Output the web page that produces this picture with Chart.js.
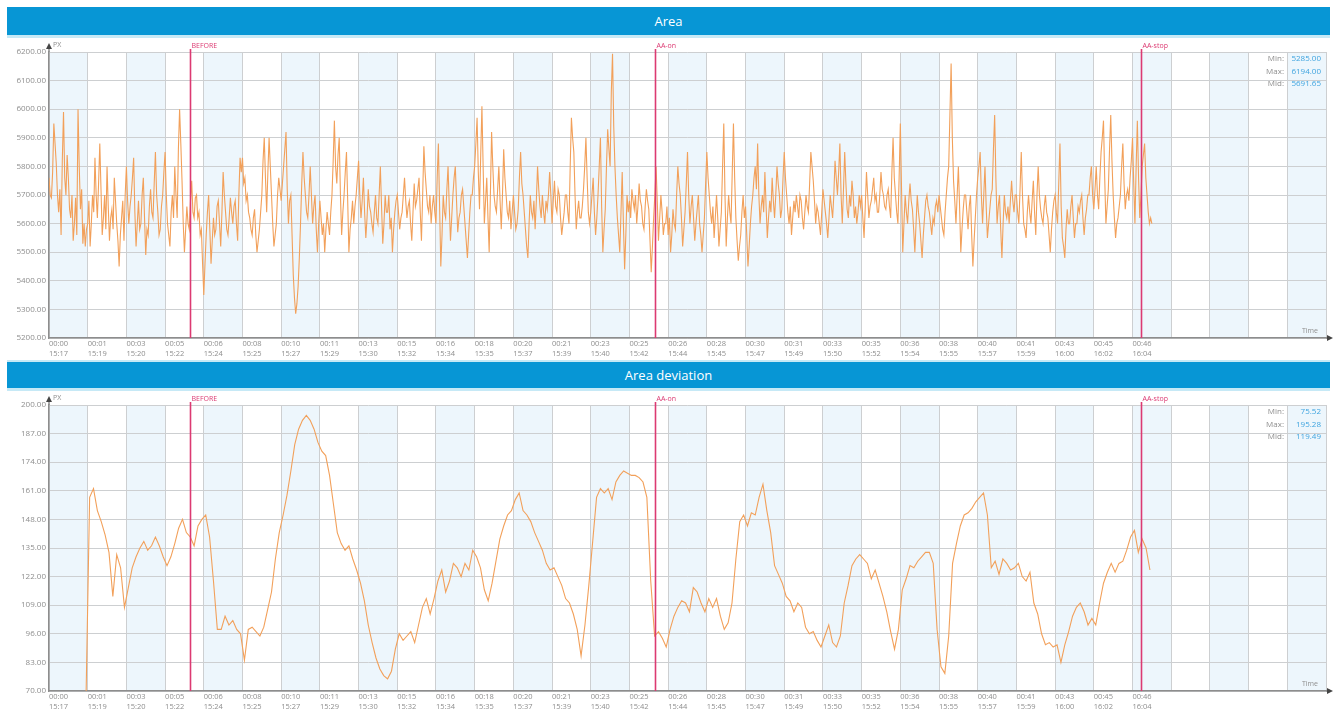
<!DOCTYPE html>
<html>
<head>
<meta charset="utf-8">
<title>Area / Area deviation</title>
<script src="https://cdn.jsdelivr.net/npm/chart.js@4.4.0/dist/chart.umd.min.js"></script>
<style>
  html, body { margin: 0; padding: 0; background: #fff; width: 1336px; height: 712px; overflow: hidden; font-family: "Open Sans", "Noto Sans", sans-serif; }
  .bar { position: absolute; left: 7px; width: 1323px; background: #0796d5; color: #fff; font-size: 13px; text-align: center; }
  .bar1 { top: 7px; height: 28px; line-height: 28px; border-bottom: 3px solid #c6e9f6; }
  .bar2 { top: 360px; height: 26px; line-height: 26px; border-top: 2px solid #c6e9f6; border-bottom: 3px solid #c6e9f6; }
  canvas { position: absolute; left: 0; }
  #areaChart { top: 38px; }
  #devChart { top: 391px; }
</style>
</head>
<body>
<div class="bar bar1">Area</div>
<canvas id="areaChart" width="1336" height="322"></canvas>
<div class="bar bar2">Area deviation</div>
<canvas id="devChart" width="1336" height="321"></canvas>

<script>
// ---- time axis (seconds from start) ----
const TIME_MAX = 3300;
const TIME_STEP = 100;
const ELAPSED_LABELS = ['00:00','00:01','00:03','00:05','00:06','00:08','00:10','00:11','00:13','00:15',
  '00:16','00:18','00:20','00:21','00:23','00:25','00:26','00:28','00:30','00:31',
  '00:33','00:35','00:36','00:38','00:40','00:41','00:43','00:45','00:46'];
const CLOCK_LABELS = ['15:17','15:19','15:20','15:22','15:24','15:25','15:27','15:29','15:30','15:32',
  '15:34','15:35','15:37','15:39','15:40','15:42','15:44','15:45','15:47','15:49',
  '15:50','15:52','15:54','15:55','15:57','15:59','16:00','16:02','16:04'];

// ---- event markers ----
const MARKER_TIMES = [364, 1566, 2822];
const MARKER_NAMES = ['BEFORE', 'AA-on', 'AA-stop'];

// ---- Area series: one sample every 3.125 s (one row = 100 s) ----
const AREA_STEP = 3.125;
const AREA_VALUES = [
  5760,5700,5690,5780,5950,5880,5810,5700,5640,5720,5560,5820,5990,5760,5700,5840,5760,5650,5620,5700,5540,5600,5690,5560,6000,5800,5650,5720,5530,5600,5520,5580,
  5600,5680,5520,5600,5700,5640,5830,5700,5620,5740,5880,5720,5560,5620,5700,5580,5800,5660,5540,5620,5650,5580,5760,5680,5600,5540,5450,5560,5620,5680,5540,5700,
  5800,5680,5600,5660,5700,5760,5830,5640,5520,5600,5680,5580,5600,5700,5760,5620,5490,5580,5560,5660,5720,5640,5620,5740,5850,5700,5640,5560,5580,5660,5700,5780,
  5850,5700,5600,5560,5520,5640,5700,5620,5800,5700,5620,5860,6000,5880,5750,5600,5500,5580,5660,5600,5580,5680,5750,5640,5620,5690,5700,5620,5640,5560,5580,5460,
  5350,5460,5560,5640,5700,5580,5460,5540,5620,5560,5580,5660,5680,5600,5520,5640,5780,5700,5640,5580,5560,5620,5690,5640,5600,5660,5680,5600,5540,5700,5830,5780,
  5830,5740,5760,5680,5700,5640,5620,5580,5560,5620,5650,5560,5500,5540,5580,5640,5700,5820,5900,5760,5640,5780,5900,5800,5700,5600,5520,5560,5600,5700,5760,5720,
  5680,5740,5800,5860,5920,5720,5600,5680,5700,5560,5420,5340,5285,5320,5380,5480,5600,5740,5850,5760,5700,5640,5620,5700,5800,5700,5600,5660,5700,5580,5500,5600,
  5680,5620,5560,5600,5500,5580,5640,5600,5560,5640,5700,5820,5960,5800,5740,5840,5900,5700,5560,5640,5700,5780,5850,5680,5500,5580,5620,5680,5600,5660,5700,5760,
  5820,5700,5620,5680,5760,5640,5550,5620,5720,5660,5640,5600,5570,5640,5700,5620,5600,5700,5800,5660,5530,5600,5700,5640,5640,5700,5580,5620,5500,5580,5640,5680,
  5700,5640,5580,5620,5640,5700,5760,5680,5620,5660,5680,5600,5540,5640,5740,5660,5680,5720,5760,5640,5540,5700,5870,5780,5720,5660,5640,5700,5600,5660,5700,5640,
  5600,5760,5880,5660,5450,5560,5700,5640,5620,5720,5800,5660,5540,5620,5700,5760,5800,5680,5570,5620,5640,5700,5720,5660,5600,5540,5480,5560,5640,5700,5700,5760,
  5800,5880,5970,5780,5650,5840,6010,5800,5600,5680,5760,5620,5500,5700,5920,5800,5700,5660,5640,5720,5800,5680,5580,5700,5860,5760,5700,5640,5620,5680,5580,5640,
  5700,5640,5580,5600,5650,5760,5850,5740,5700,5640,5580,5520,5480,5600,5700,5640,5620,5680,5580,5680,5800,5720,5660,5620,5700,5640,5600,5680,5650,5700,5780,5700,
  5600,5680,5750,5660,5640,5720,5700,5620,5560,5600,5640,5700,5700,5640,5600,5800,5970,5900,5850,5700,5580,5640,5680,5620,5620,5660,5720,5800,5900,5760,5640,5600,
  5640,5700,5760,5640,5560,5620,5700,5800,5900,5660,5500,5580,5650,5800,5930,5860,5800,6060,6194,5940,5800,5700,5620,5560,5500,5640,5780,5600,5440,5560,5700,5640,
  5680,5620,5720,5680,5650,5700,5600,5660,5740,5680,5660,5600,5580,5660,5720,5680,5650,5540,5430,5520,5620,5700,5800,5680,5540,5620,5700,5640,5560,5600,5600,5660,
  5560,5620,5500,5560,5650,5600,5580,5700,5800,5740,5700,5620,5520,5580,5640,5740,5850,5700,5600,5660,5700,5620,5540,5600,5650,5700,5600,5560,5500,5560,5620,5740,
  5850,5760,5700,5640,5600,5660,5550,5620,5700,5620,5520,5580,5640,5800,5950,5700,5520,5620,5700,5640,5600,5780,5950,5760,5620,5540,5470,5520,5560,5640,5700,5620,
  5660,5560,5450,5520,5600,5660,5700,5760,5800,5720,5880,5700,5600,5660,5700,5640,5780,5660,5550,5620,5680,5640,5760,5680,5620,5700,5800,5740,5700,5620,5650,5760,
  5850,5760,5700,5640,5600,5660,5560,5620,5680,5640,5700,5660,5620,5700,5680,5620,5580,5640,5700,5660,5640,5740,5850,5800,5750,5680,5600,5660,5640,5600,5560,5640,
  5720,5680,5640,5600,5550,5620,5700,5660,5620,5700,5820,5760,5700,5780,5880,5700,5600,5720,5850,5740,5650,5620,5700,5660,5750,5700,5620,5660,5600,5640,5700,5660,
  5700,5620,5550,5660,5780,5700,5620,5660,5680,5720,5760,5680,5700,5640,5640,5700,5780,5720,5700,5660,5650,5700,5720,5660,5620,5780,5900,5760,5700,5640,5600,5760,
  5950,5720,5500,5600,5700,5640,5600,5680,5740,5680,5650,5580,5500,5600,5700,5640,5600,5540,5480,5560,5620,5680,5700,5660,5640,5600,5560,5620,5600,5660,5680,5640,
  5700,5660,5620,5580,5560,5640,5700,5760,5800,5980,6160,5900,5750,5680,5600,5700,5800,5660,5500,5580,5650,5700,5700,5640,5580,5660,5700,5560,5450,5540,5620,5700,
  5760,5800,5850,5700,5600,5700,5800,5660,5550,5600,5650,5700,5720,5860,5980,5760,5600,5660,5700,5580,5480,5600,5700,5640,5620,5660,5600,5680,5750,5680,5640,5700,
  5700,5640,5600,5720,5850,5700,5600,5580,5550,5640,5700,5640,5600,5680,5750,5640,5560,5700,5800,5700,5650,5620,5600,5660,5700,5640,5620,5560,5500,5580,5640,5680,
  5700,5640,5600,5740,5880,5660,5550,5520,5480,5580,5650,5600,5600,5660,5700,5620,5550,5600,5600,5660,5640,5680,5700,5620,5560,5620,5650,5700,5700,5760,5800,5700,
  5650,5720,5800,5700,5650,5760,5850,5900,5960,5760,5600,5660,5720,5860,5980,5820,5700,5620,5550,5600,5620,5660,5700,5800,5880,5740,5650,5700,5720,5680,5760,5820,
  5900,5740,5600,5800,5960,5760,5620,5700,5800,5840,5880,5760,5700,5640,5600,5620,5600
];
const AREA_Y_TICKS = [5200,5300,5400,5500,5600,5700,5800,5900,6000,6100,6200];
const AREA_STATS = ['5285.00', '6194.00', '5691.65'];

// ---- Area deviation series: one sample every 10 s from 95 s ----
const DEV_START = 95;
const DEV_STEP = 10;
const DEV_VALUES = [
  60,158,162,152,147,141,133,113,132,126,108,117,126,131,135,138,134,136,140,136,
  131,127,131,137,144,148,142,140,136,145,148,150,140,120,98,98,104,100,102,98,
  96,84,98,99,97,95,99,107,115,130,142,150,159,170,182,189,193,195.28,193,189,
  183,179,177,168,155,142,137,134,136,130,125,119,111,100,92,85,80,77,75.52,79,
  89,96,93,95,97,92,100,108,112,105,112,120,125,115,120,128,126,122,128,125,
  134,131,126,116,111,119,129,139,145,150,152,157,160,152,150,147,142,138,134,128,
  125,126,122,118,112,110,105,98,86,100,118,138,158,162,160,162,157,165,168,170,
  169,168,168,167,165,158,120,95,97,94,90,98,104,108,111,110,106,117,115,110,
  106,112,108,112,104,98,101,110,130,147,150,145,151,150,158,164,152,142,127,123,
  119,113,111,106,110,108,99,96,97,93,90,95,100,92,90,95,110,118,127,130,
  132,130,128,121,125,119,113,106,97,89,98,116,121,127,126,129,131,133,133,128,
  98,81,78,95,128,137,145,150,151,153,156,158,160,150,126,129,123,130,128,125,
  126,128,122,120,124,110,105,96,91,92,90,91,83,91,97,104,108,110,106,100,
  103,100,110,119,124,128,124,128,129,134,140,143,133,139,135,125
];
const DEV_Y_TICKS = [70,83,96,109,122,135,148,161,174,187,200];
const DEV_STATS = ['75.52', '195.28', '119.49'];

const STAT_NAMES = ['Min:', 'Max:', 'Mid:'];
const Y_AXIS_NAME = 'PX';
const X_AXIS_NAME = 'Time';

// ---- styling ----
const FONT = '"Open Sans", "Noto Sans", sans-serif';
const LINE_COLOR = '#f2a05a';
const GRID_COLOR = '#cdcfd1';
const AXIS_COLOR = '#8d8d8d';
const SHADE_COLOR = '#edf6fc';
const MARKER_COLOR = '#dc3a72';
const LABEL_COLOR = '#8e8e8e';
const STAT_VALUE_COLOR = '#3fa4df';

const timeTicks = [];
for (let t = 0; t <= TIME_MAX; t += TIME_STEP) timeTicks.push(t);

// alternating light-blue columns behind the grid
const columnShade = {
  id: 'columnShade',
  beforeDraw(chart) {
    const { ctx, chartArea: a, scales: { x } } = chart;
    ctx.save();
    ctx.fillStyle = SHADE_COLOR;
    for (let k = 0; k * TIME_STEP < TIME_MAX; k += 2) {
      const x0 = x.getPixelForValue(k * TIME_STEP);
      const x1 = x.getPixelForValue(Math.min((k + 1) * TIME_STEP, TIME_MAX));
      ctx.fillRect(x0, a.top, x1 - x0, a.bottom - a.top);
    }
    ctx.restore();
  }
};

// vertical event markers with their captions
const eventMarkers = {
  id: 'eventMarkers',
  afterDatasetsDraw(chart) {
    const { ctx, chartArea: a, scales: { x } } = chart;
    ctx.save();
    ctx.strokeStyle = MARKER_COLOR;
    ctx.fillStyle = MARKER_COLOR;
    ctx.lineWidth = 1.6;
    ctx.font = '7px ' + FONT;
    ctx.textAlign = 'left';
    ctx.textBaseline = 'middle';
    MARKER_TIMES.forEach((t, i) => {
      const px = Math.round(x.getPixelForValue(t)) + 0.5;
      ctx.beginPath();
      ctx.moveTo(px, a.top - 3);
      ctx.lineTo(px, a.bottom);
      ctx.stroke();
      ctx.fillText(MARKER_NAMES[i], px + 1, a.top - 6);
    });
    ctx.restore();
  }
};

// axis arrows, axis names and the min/max/mid summary
const axisDecor = {
  id: 'axisDecor',
  afterDraw(chart, args, opts) {
    const { ctx, chartArea: a } = chart;
    ctx.save();
    ctx.strokeStyle = AXIS_COLOR;
    ctx.lineWidth = 1.5;
    ctx.beginPath();
    ctx.moveTo(a.left, a.top);
    ctx.lineTo(a.left, a.top - 6);
    ctx.moveTo(a.right, a.bottom);
    ctx.lineTo(a.right + 4, a.bottom);
    ctx.stroke();
    ctx.fillStyle = '#444';
    ctx.beginPath();
    ctx.moveTo(a.left, a.top - 9);
    ctx.lineTo(a.left - 3, a.top - 3);
    ctx.lineTo(a.left + 3, a.top - 3);
    ctx.closePath();
    ctx.fill();
    ctx.beginPath();
    ctx.moveTo(a.right + 7, a.bottom);
    ctx.lineTo(a.right + 1, a.bottom - 3);
    ctx.lineTo(a.right + 1, a.bottom + 3);
    ctx.closePath();
    ctx.fill();

    ctx.fillStyle = LABEL_COLOR;
    ctx.font = '7px ' + FONT;
    ctx.textBaseline = 'middle';
    ctx.textAlign = 'left';
    ctx.fillText(Y_AXIS_NAME, a.left + 4, a.top - 7);
    ctx.textAlign = 'right';
    ctx.fillText(X_AXIS_NAME, a.right - 8, a.bottom - 7);

    ctx.font = '8px ' + FONT;
    opts.stats.forEach((v, i) => {
      const y = a.top + 7 + i * 12.5;
      ctx.fillStyle = LABEL_COLOR;
      ctx.fillText(STAT_NAMES[i], a.right - 42, y);
      ctx.fillStyle = STAT_VALUE_COLOR;
      ctx.fillText(v, a.right - 5, y);
    });
    ctx.restore();
  }
};

function makeChart(id, points, yMin, yMax, yTicks, stats, xAxisHeight) {
  return new Chart(document.getElementById(id), {
    type: 'line',
    data: {
      datasets: [{
        data: points,
        borderColor: LINE_COLOR,
        borderWidth: 1.1,
        pointRadius: 0,
        tension: 0,
        fill: false
      }]
    },
    options: {
      responsive: false,
      animation: false,
      devicePixelRatio: 1,
      parsing: false,
      normalized: true,
      layout: { padding: { top: 14, right: 10, left: 0, bottom: 0 } },
      plugins: {
        legend: { display: false },
        tooltip: { enabled: false },
        axisDecor: { stats }
      },
      scales: {
        x: {
          type: 'linear',
          min: 0,
          max: TIME_MAX,
          afterBuildTicks: (s) => { s.ticks = timeTicks.map(v => ({ value: v })); },
          afterFit: (s) => { s.height = xAxisHeight; },
          grid: { color: GRID_COLOR, lineWidth: 1, drawTicks: false },
          border: { color: AXIS_COLOR, width: 1.5 },
          ticks: {
            autoSkip: false,
            maxRotation: 0,
            align: 'start',
            padding: 1,
            color: LABEL_COLOR,
            font: { family: FONT, size: 7.5, lineHeight: 1.35 },
            callback: (v) => {
              const i = Math.round(v / TIME_STEP);
              return i < ELAPSED_LABELS.length ? [ELAPSED_LABELS[i], CLOCK_LABELS[i]] : '';
            }
          }
        },
        y: {
          type: 'linear',
          min: yMin,
          max: yMax,
          afterBuildTicks: (s) => { s.ticks = yTicks.map(v => ({ value: v })); },
          afterFit: (s) => { s.width = 49; },
          grid: { color: GRID_COLOR, lineWidth: 1, drawTicks: false },
          border: { color: AXIS_COLOR, width: 1.5 },
          ticks: {
            padding: 3,
            color: LABEL_COLOR,
            font: { family: FONT, size: 8 },
            callback: (v) => Number(v).toFixed(2)
          }
        }
      }
    },
    plugins: [columnShade, eventMarkers, axisDecor]
  });
}

const areaPoints = AREA_VALUES.map((v, i) => ({ x: i * AREA_STEP, y: v }));
const devPoints = DEV_VALUES.map((v, i) => ({ x: DEV_START + i * DEV_STEP, y: v }));

makeChart('areaChart', areaPoints, 5200, 6200, AREA_Y_TICKS, AREA_STATS, 22);
makeChart('devChart', devPoints, 70, 200, DEV_Y_TICKS, DEV_STATS, 21);
</script>
</body>
</html>
